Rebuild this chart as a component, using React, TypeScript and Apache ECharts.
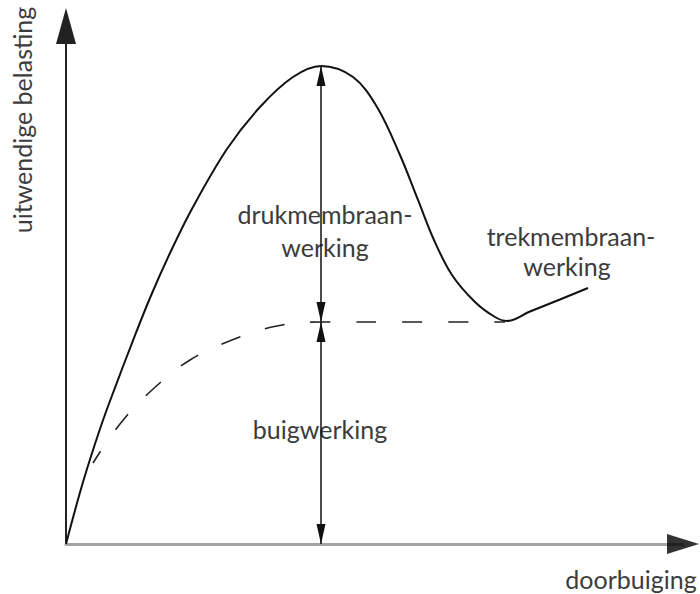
import { useEffect, useRef } from 'react';
import * as echarts from 'echarts';

// Load–deflection diagram (belasting vs doorbuiging) for a restrained slab.
// Both axes are dimensionless, 0..100.
const X_MAX = 100;
const Y_MAX = 100;

// Total load-bearing response: compressive membrane peak, then tensile membrane branch.
const totalX = [0, 2.76, 5.67, 8.1, 10.7, 13.61, 16.86, 20.58, 26.09, 31.44, 36.79, 41.33, 46.52, 50.41, 54.13, 57.05, 59.64, 62.56, 66.29, 69.53, 71.47, 75.2, 80.06, 84.6];
const totalY = [0, 11.97, 22.78, 30.69, 38.8, 47.49, 56.18, 65.06, 76.25, 84.36, 90.15, 92.28, 90.15, 84.36, 75.1, 66.41, 58.69, 51.93, 46.72, 43.82, 43.05, 44.88, 47.2, 49.42];

// Pure bending response (dashed), levelling off at the bending capacity.
const bendingX = [4.38, 8.75, 13.94, 20.1, 26.9, 34.2, 41.33, 56.24, 71.15];
const bendingY = [15.64, 23.17, 29.73, 35.52, 39.38, 42.08, 42.86, 42.86, 42.86];

const PEAK_X = 41.33;
const PEAK_Y = 92.28;
const BENDING_LEVEL = 42.86;

const TEXT_COLOR = '#3c3c3c';
const FONT = 'Lato, "Open Sans", sans-serif';

const zip = (xs: number[], ys: number[]) => xs.map((x, i) => [x, ys[i]]);

export default function App() {
  const ref = useRef<HTMLDivElement>(null);

  useEffect(() => {
    if (!ref.current) return;
    const chart = echarts.init(ref.current, undefined, { renderer: 'svg' });

    const text = (t: string, x: number, y: number, extra: any = {}) => ({
      type: 'text',
      x,
      y,
      silent: true,
      style: {
        text: t,
        fill: TEXT_COLOR,
        font: `25px ${FONT}`,
        textAlign: 'center',
        textVerticalAlign: 'middle',
      },
      ...extra,
    });

    chart.setOption({
      animation: false,
      backgroundColor: '#ffffff',
      grid: { left: 66, right: 17, top: 26, bottom: 50, containLabel: false, outerBoundsMode: 'none' },
      xAxis: {
        type: 'value',
        min: 0,
        max: X_MAX,
        splitLine: { show: false },
        axisTick: { show: false },
        axisLabel: { show: false },
        axisLine: { show: true, onZero: false, lineStyle: { color: '#a4a4a4', width: 3 } },
      },
      yAxis: {
        type: 'value',
        min: 0,
        max: Y_MAX,
        splitLine: { show: false },
        axisTick: { show: false },
        axisLabel: { show: false },
        axisLine: {
          show: true,
          onZero: false,
          symbol: ['none', 'triangle'],
          symbolSize: [20, 36],
          lineStyle: { color: '#222222', width: 2 },
        },
      },
      series: [
        {
          name: 'bending',
          type: 'line',
          data: zip(bendingX, bendingY),
          smooth: 0.4,
          showSymbol: false,
          silent: true,
          lineStyle: { color: '#222222', width: 1.6, type: [20, 26], dashOffset: 6 },
          z: 3,
        },
        {
          name: 'total',
          type: 'line',
          data: zip(totalX, totalY),
          smooth: 0.35,
          showSymbol: false,
          silent: true,
          lineStyle: { color: '#111111', width: 2 },
          z: 4,
          markLine: {
            silent: true,
            symbol: ['triangle', 'triangle'],
            symbolSize: [9, 20],
            symbolOffset: [[0, 10], [0, 10]],
            label: { show: false },
            emphasis: { disabled: true },
            lineStyle: { color: '#111111', width: 1.5, type: 'solid' },
            data: [
              [{ coord: [PEAK_X, 0] }, { coord: [PEAK_X, BENDING_LEVEL] }],
              [{ coord: [PEAK_X, BENDING_LEVEL] }, { coord: [PEAK_X, PEAK_Y] }],
            ],
          },
        },
        {
          name: 'x-arrow',
          type: 'scatter',
          data: [[X_MAX, 0]],
          symbol: 'triangle',
          symbolRotate: -90,
          symbolSize: [20, 32],
          clip: false,
          silent: true,
          itemStyle: { color: '#000000' },
          z: 5,
        },
      ],
      graphic: [
        text('drukmembraan-', 325, 214),
        text('werking', 325, 247),
        text('trekmembraan-', 571, 236),
        text('werking', 567, 266),
        text('buigwerking', 320, 429),
        text('doorbuiging', 631, 579),
        text('uitwendige belasting', 22, 120, { rotation: Math.PI / 2 }),
      ],
    });

    return () => chart.dispose();
  }, []);

  return <div ref={ref} style={{ width: 700, height: 594, position: 'absolute', left: 0, top: 0 }} />;
}
